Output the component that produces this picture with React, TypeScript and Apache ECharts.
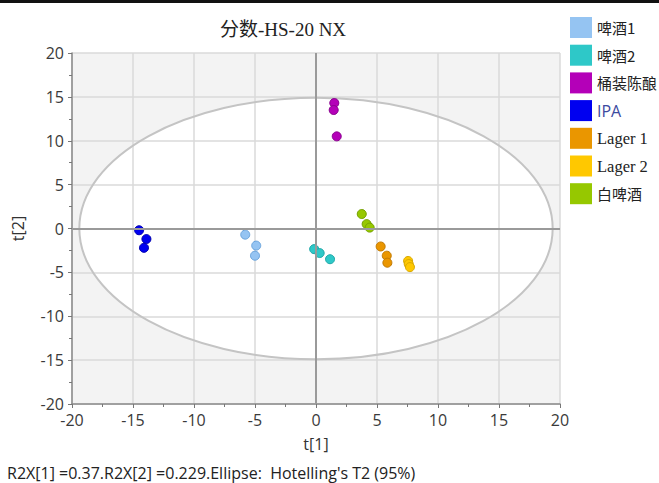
import React, { useEffect, useRef } from "react";
import * as echarts from "echarts";

const seriesNames = ["啤酒1", "啤酒2", "桶装陈酿", "IPA", "Lager 1", "Lager 2", "白啤酒"];
const seriesColors = ["#95c4f2", "#2ec8c8", "#b400b8", "#0000f0", "#ea9600", "#ffc800", "#96c800"];
const seriesBorders = ["#6aa4dc", "#1fa8a8", "#8a008e", "#0000b0", "#c07800", "#d8a800", "#74a000"];

const beer1 = [[-5.8, -0.7], [-4.9, -1.95], [-5.0, -3.1]];
const beer2 = [[-0.15, -2.35], [0.3, -2.8], [1.15, -3.5]];
const barrel = [[1.5, 14.3], [1.45, 13.5], [1.7, 10.5]];
const ipa = [[-14.5, -0.2], [-13.9, -1.2], [-14.1, -2.2]];
const lager1 = [[5.3, -2.05], [5.8, -3.1], [5.85, -3.9]];
const lager2 = [[7.55, -3.7], [7.6, -4.05], [7.7, -4.4]];
const wheat = [[3.75, 1.65], [4.15, 0.5], [4.4, 0.1]];
const seriesData = [beer1, beer2, barrel, ipa, lager1, lager2, wheat];

// Hotelling's T2 ellipse: center x, center y, radius x, radius y
const ellipse = [[0, 0, 19.4, 14.9]];

const axisMin = -20;
const axisMax = 20;
const axisInterval = 5;

const titleText = "分数-HS-20 NX";
const xName = "t[1]";
const yName = "t[2]";
const footerText = "R2X[1] =0.37.R2X[2] =0.229.Ellipse:  Hotelling's T2 (95%)";

export default function App() {
  const ref = useRef<HTMLDivElement>(null);
  useEffect(() => {
    if (!ref.current) return;
    const chart = echarts.init(ref.current, null, { renderer: "svg" });
    const axisCommon = {
      type: "value",
      min: axisMin,
      max: axisMax,
      interval: axisInterval,
      nameLocation: "middle",
      nameTextStyle: { fontFamily: "Open Sans", fontSize: 16, color: "#333" },
      axisLine: { show: true, onZero: false, lineStyle: { color: "#8a8a8a", width: 1.5 } },
      axisTick: { show: true, inside: false, length: 4, lineStyle: { color: "#777" } },
      minorTick: { show: true, splitNumber: 2, length: 3, lineStyle: { color: "#777" } },
      splitLine: { show: true, lineStyle: { color: "#dadada", width: 1.5 } },
      axisLabel: { fontFamily: "Open Sans", fontSize: 16, color: "#3a3a3a", margin: 8 },
    };
    const scatterSeries = seriesNames.map((name, i) => ({
      name,
      type: "scatter",
      data: seriesData[i],
      symbolSize: 9,
      z: 3,
      itemStyle: { color: seriesColors[i], borderColor: seriesBorders[i], borderWidth: 1, opacity: 1 },
      ...(i === 0
        ? {
            markLine: {
              silent: true,
              symbol: "none",
              label: { show: false },
              lineStyle: { color: "#9a9a9a", width: 2, type: "solid" },
              data: [{ xAxis: 0 }, { yAxis: 0 }],
            },
          }
        : {}),
    }));
    chart.setOption({
      animation: false,
      backgroundColor: "#ffffff",
      grid: { left: 72, top: 53, right: 99, bottom: 79 },
      xAxis: { ...axisCommon, name: xName, nameGap: 32 },
      yAxis: { ...axisCommon, name: yName, nameGap: 46 },
      legend: {
        orient: "vertical",
        left: 565,
        top: 12,
        itemWidth: 22,
        itemHeight: 21,
        itemGap: 6.7,
        icon: "rect",
        data: seriesNames,
        itemStyle: { borderWidth: 0 },
        formatter: (n: string) => (n === "IPA" ? "{s|IPA}" : n.startsWith("Lager") ? "{l|" + n + "}" : n),
        textStyle: {
          fontFamily: "Noto Sans CJK SC",
          fontSize: 15,
          color: "#222",
          rich: {
            s: { fontFamily: "Open Sans", fontSize: 16, color: "#3c4aa0" },
            l: { fontFamily: "Liberation Serif", fontSize: 16.5, color: "#222" },
          },
        },
      },
      graphic: [
        { type: "rect", left: 0, top: 0, shape: { width: 659, height: 3 }, style: { fill: "#111" } },
        {
          type: "text",
          x: 283,
          y: 29,
          style: {
            text: titleText,
            fontFamily: "Liberation Serif, Noto Sans CJK SC",
            fontSize: 19,
            fill: "#222",
            align: "center",
            verticalAlign: "middle",
          },
        },
        {
          type: "text",
          x: 7,
          y: 473,
          style: { text: footerText, fontFamily: "Open Sans", fontSize: 16, fill: "#222", verticalAlign: "middle" },
        },
      ],
      series: [
        {
          type: "custom",
          z: -1,
          silent: true,
          data: ellipse,
          renderItem: (params: any, api: any) => {
            const cs = params.coordSys;
            const c = api.coord([api.value(0), api.value(1)]);
            const s = api.size([api.value(2), api.value(3)]);
            return {
              type: "group",
              children: [
                { type: "rect", shape: { x: cs.x, y: cs.y, width: cs.width, height: cs.height }, style: { fill: "#f3f3f3" } },
                { type: "ellipse", shape: { cx: c[0], cy: c[1], rx: s[0], ry: s[1] }, style: { fill: "#ffffff" } },
              ],
            };
          },
        },
        {
          type: "custom",
          z: 1,
          silent: true,
          data: ellipse,
          renderItem: (params: any, api: any) => {
            const c = api.coord([api.value(0), api.value(1)]);
            const s = api.size([api.value(2), api.value(3)]);
            return {
              type: "ellipse",
              shape: { cx: c[0], cy: c[1], rx: s[0], ry: s[1] },
              style: { fill: "none", stroke: "#c4c4c4", lineWidth: 2 },
            };
          },
        },
        ...scatterSeries,
      ],
    });
    return () => chart.dispose();
  }, []);
  return <div ref={ref} style={{ position: "fixed", left: 0, top: 0, width: 659, height: 483 }} />;
}
